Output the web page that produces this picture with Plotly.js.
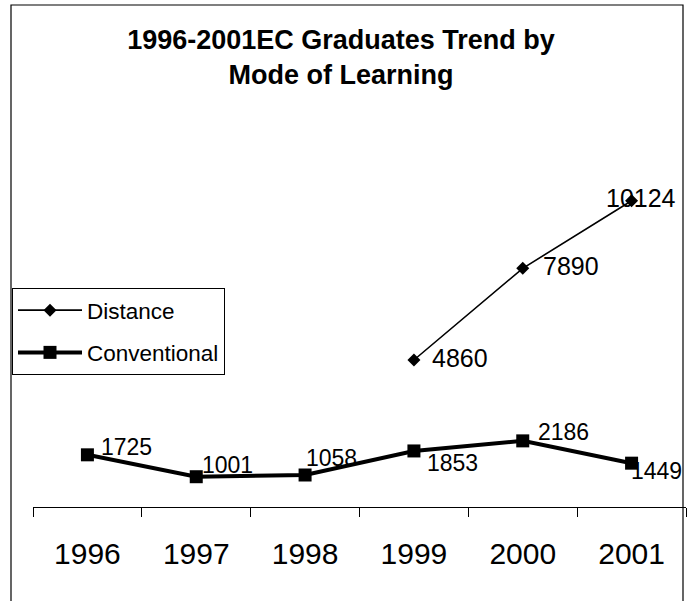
<!DOCTYPE html>
<html>
<head>
<meta charset="utf-8">
<script src="https://cdn.plot.ly/plotly-3.0.1.min.js"></script>
<style>
  html, body { margin: 0; padding: 0; background: #fff; }
  #chart { width: 694px; height: 601px; }
</style>
</head>
<body>
<div id="chart"></div>
<script>
// ---- data ----
const years = ["1996", "1997", "1998", "1999", "2000", "2001"];
const distanceYears = ["1999", "2000", "2001"];
const distanceValues = [4860, 7890, 10124];
const conventionalValues = [1725, 1001, 1058, 1853, 2186, 1449];
const seriesNames = ["Distance", "Conventional"];
const titleText = "1996-2001EC Graduates Trend by<br>Mode of Learning";

// ---- label offsets (pixels) ----
const distOffsets = [[16, 2], [18, 2], [-28, 3]];
const convOffsets = [[12, 8], [4, 12], [-1, 17], [11, -12], [13, 9], [-3, -8]];

const FONT = "Arial, 'Liberation Sans', sans-serif";

const traces = [
  {
    x: distanceYears, y: distanceValues, name: seriesNames[0], type: "scatter", mode: "lines+markers",
    line: { color: "#000", width: 1.6 },
    marker: { symbol: "diamond", size: 10, color: "#000" },
    legendgroup: "a", cliponaxis: false
  },
  {
    x: years, y: conventionalValues, name: seriesNames[1], type: "scatter", mode: "lines+markers",
    line: { color: "#000", width: 4 },
    marker: { symbol: "square", size: 13, color: "#000" },
    legendgroup: "b", cliponaxis: false
  }
];

// annotations on a category axis take the category's index as position
const annotations = [];
distanceYears.forEach((yr, i) => {
  annotations.push({
    xref: "x", yref: "y",
    x: years.indexOf(yr), y: distanceValues[i], text: String(distanceValues[i]), showarrow: false,
    xanchor: "left", yanchor: "middle", xshift: distOffsets[i][0], yshift: distOffsets[i][1],
    font: { family: FONT, size: 25, color: "#000" }
  });
});
years.forEach((yr, i) => {
  annotations.push({
    xref: "x", yref: "y",
    x: i, y: conventionalValues[i], text: String(conventionalValues[i]), showarrow: false,
    xanchor: "left", yanchor: "middle", xshift: convOffsets[i][0], yshift: convOffsets[i][1],
    font: { family: FONT, size: 23, color: "#000" }
  });
});

// plot area: left 33, right 686, top 144, bottom 507
const L = 33, R = 686, T = 144, B = 507;
const pw = R - L, ph = B - T;
const px = v => (v - L) / pw;
const py = v => (B - v) / ph;

const layout = {
  width: 694, height: 601,
  margin: { l: L, r: 694 - R, t: T, b: 601 - B, autoexpand: false },
  paper_bgcolor: "#fff", plot_bgcolor: "rgba(0,0,0,0)",
  font: { family: FONT, color: "#000" },
  title: {
    text: titleText,
    font: { family: FONT, size: 27, color: "#000", weight: "bold" },
    x: 341 / 694, xref: "container", xanchor: "center",
    y: 1 - 49 / 601, yref: "container", yanchor: "top", automargin: false
  },
  xaxis: {
    type: "category", categoryorder: "array", categoryarray: years,
    range: [-0.5, 5.5], automargin: false,
    showline: true, linecolor: "#000", linewidth: 1,
    ticks: "outside", tickson: "boundaries", ticklen: 9, tickcolor: "#000", tickwidth: 1,
    showgrid: false, zeroline: false,
    tickfont: { family: FONT, size: 30, color: "#000" },
    ticklabelstandoff: 20,
    fixedrange: true
  },
  yaxis: {
    range: [0, 12000], visible: false, showgrid: false, zeroline: false, fixedrange: true, automargin: false
  },
  showlegend: true,
  legend: {
    xref: "container", yref: "container",
    x: 12 / 694, y: 1 - 288 / 601, xanchor: "left", yanchor: "top",
    bgcolor: "#fff", bordercolor: "#000", borderwidth: 1,
    font: { family: FONT, size: 22.5, color: "#000" },
    traceorder: "grouped", tracegroupgap: 10,
    itemwidth: 64
  },
  shapes: [
    {
      type: "rect", xref: "paper", yref: "paper",
      x0: px(11), x1: px(683), y0: py(620), y1: py(5),
      line: { color: "#000", width: 1.2 }, fillcolor: "rgba(0,0,0,0)", layer: "below"
    }
  ],
  annotations: annotations
};

Plotly.newPlot("chart", traces, layout, { displayModeBar: false });
</script>
</body>
</html>
